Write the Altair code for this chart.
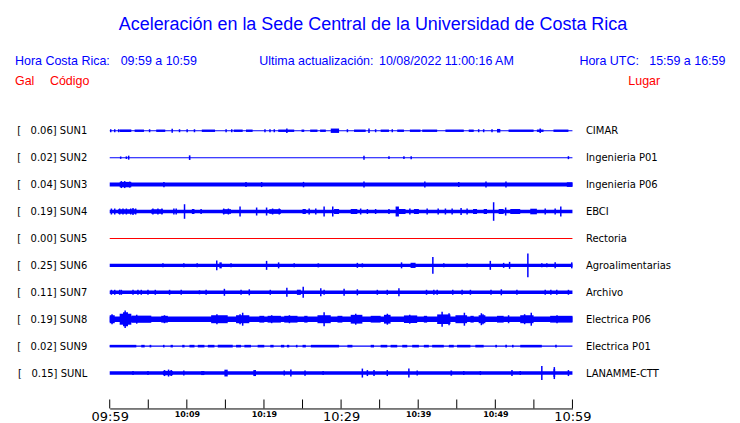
import json
import altair as alt
import pandas as pd

# ---------------- data ----------------
TITLE = "Aceleración en la Sede Central de la Universidad de Costa Rica"
HEADER_BLUE = ["Hora Costa Rica:", "09:59 a 10:59", "Ultima actualización:",
               "10/08/2022 11:00:16 AM", "Hora UTC:", "15:59 a 16:59"]
HEADER_RED = ["Gal", "Código", "Lugar"]

STATIONS = ["SUN1", "SUN2", "SUN3", "SUN4", "SUN5", "SUN6", "SUN7", "SUN8", "SUN9", "SUNL"]
PEAK_GAL = ["0.06", "0.02", "0.04", "0.19", "0.00", "0.25", "0.11", "0.19", "0.02", "0.15"]
PLACES = ["CIMAR", "Ingenieria P01", "Ingenieria P06", "EBCI", "Rectoria",
          "Agroalimentarias", "Archivo", "Electrica P06", "Electrica P01", "LANAMME-CTT"]
TRACE_COLORS = ["#0000ff", "#0000ff", "#0000ff", "#0000ff", "#ff0000",
                "#0000ff", "#0000ff", "#0000ff", "#0000ff", "#0000ff"]

# half amplitude of the continuous background noise band of each trace (display units)
BASE_HALF = [0.5, 0.5, 2.0, 1.8, 0.5, 1.7, 1.7, 2.8, 0.6, 1.7]

# events: (start minute, end minute, half amplitude); start == end -> single spike
SUN1_EV = [(1.29, 2.80, 1.3), (3.23, 4.44, 1.2), (6.03, 7.20, 1.2), (11.94, 13.66, 1.2),
           (16.08, 17.24, 1.2), (17.67, 18.53, 1.2), (21.85, 23.92, 1.2), (24.87, 25.22, 1.2),
           (25.99, 26.94, 1.2), (27.28, 28.02, 1.2), (28.66, 29.74, 2.2), (31.68, 33.19, 1.2),
           (35.13, 36.21, 1.2), (37.28, 38.15, 1.2), (38.92, 40.30, 1.2), (40.52, 42.46, 1.2),
           (43.53, 45.91, 1.2), (46.55, 47.20, 1.2), (50.22, 50.65, 1.8), (51.72, 54.96, 1.2),
           (55.39, 56.25, 1.2), (57.54, 59.48, 1.2),
           (0.13, 0.13, 1.5), (0.65, 0.65, 1.5), (1.16, 1.16, 1.5), (5.17, 5.17, 1.5),
           (8.10, 8.10, 2.0), (9.05, 9.05, 1.5), (10.04, 10.04, 1.5), (10.99, 10.99, 1.5),
           (15.09, 15.09, 1.5), (15.82, 15.82, 1.5), (20.13, 20.13, 1.5), (20.78, 20.78, 1.5),
           (21.34, 21.34, 1.5), (22.97, 22.97, 2.3), (30.82, 30.82, 1.5), (33.62, 33.62, 2.3),
           (34.48, 34.48, 1.5), (36.64, 36.64, 1.5), (47.84, 47.84, 1.5), (48.49, 48.49, 1.5),
           (49.57, 49.57, 1.5), (55.82, 55.82, 2.3)]
SUN2_EV = [(1.42, 1.42, 1.2), (2.16, 2.16, 1.3), (2.46, 2.46, 2.0), (10.26, 10.47, 2.3),
           (32.97, 32.97, 2.0), (36.21, 36.21, 1.3), (38.15, 38.15, 1.3), (39.09, 39.09, 1.5),
           (59.48, 59.48, 1.5)]
SUN3_EV = [(1.29, 2.80, 2.7), (1.51, 1.51, 3.5), (1.94, 1.94, 3.5), (2.59, 2.59, 3.0),
           (7.03, 7.03, 2.7), (17.67, 17.67, 2.5), (19.70, 19.70, 2.5), (25.13, 25.13, 2.7),
           (32.97, 32.97, 3.0), (40.86, 40.86, 3.0), (45.26, 45.26, 2.5), (48.79, 48.79, 3.0),
           (51.38, 51.38, 3.0), (59.27, 60.0, 2.3)]
SUN4_EV = [(1.08, 3.45, 2.2), (0.22, 0.22, 3.0), (0.65, 0.65, 3.0), (1.29, 1.29, 3.0),
           (1.72, 1.72, 3.0), (2.16, 2.16, 3.0), (2.72, 2.72, 3.0), (3.02, 3.02, 3.5),
           (3.36, 3.36, 3.0), (5.39, 6.90, 2.2), (5.60, 5.60, 3.0), (6.25, 6.25, 3.0),
           (6.77, 6.77, 3.0), (8.32, 8.32, 3.0), (8.62, 8.62, 3.0), (9.70, 9.70, 7.3),
           (10.65, 10.99, 2.5), (11.85, 11.85, 2.5), (14.66, 15.73, 2.3), (14.78, 14.78, 3.0),
           (15.39, 15.39, 3.0), (16.90, 16.90, 5.0), (19.05, 19.05, 4.0), (20.34, 20.34, 4.0),
           (20.69, 22.20, 2.3), (21.12, 21.12, 3.0), (21.98, 21.98, 3.0), (25.00, 25.43, 2.5),
           (25.86, 25.86, 3.0), (26.72, 26.72, 3.0), (27.80, 27.80, 5.0), (28.92, 28.92, 5.0),
           (29.09, 29.74, 2.5), (31.25, 32.11, 2.5), (32.54, 32.54, 3.0), (33.41, 33.41, 2.5),
           (34.48, 34.48, 2.5), (36.21, 36.21, 2.5), (37.07, 37.50, 5.0), (37.50, 38.36, 2.5),
           (38.92, 38.92, 3.0), (39.44, 40.09, 2.5), (41.16, 41.16, 3.0), (42.59, 42.59, 3.0),
           (43.53, 43.53, 3.0), (44.40, 44.40, 3.0), (45.56, 45.56, 3.5), (46.34, 46.34, 3.0),
           (47.11, 47.63, 2.5), (48.49, 48.92, 2.5), (49.78, 49.78, 9.3), (50.43, 51.08, 2.5),
           (51.34, 51.34, 4.0), (51.94, 53.23, 2.5), (54.53, 55.39, 2.8), (56.47, 56.47, 3.0),
           (57.76, 57.76, 3.0), (58.49, 58.49, 5.0)]
SUN5_EV = []
SUN6_EV = [(6.90, 6.90, 2.0), (9.61, 9.61, 2.0), (11.34, 11.34, 2.0), (13.88, 13.88, 5.0),
           (14.22, 14.53, 3.0), (15.73, 15.73, 2.0), (20.34, 20.34, 4.5), (21.90, 21.90, 3.0),
           (23.92, 23.92, 2.0), (26.94, 27.16, 2.0), (32.11, 32.11, 2.5), (32.76, 32.76, 2.0),
           (37.84, 37.84, 3.0), (39.01, 39.66, 2.6), (41.90, 41.90, 8.3), (43.32, 43.32, 2.0),
           (46.34, 46.34, 2.0), (49.35, 49.35, 4.5), (51.08, 51.08, 2.5), (51.85, 51.85, 3.5),
           (54.22, 54.22, 11.8), (56.03, 56.03, 2.0), (56.68, 56.68, 2.0), (57.76, 57.76, 3.0),
           (59.91, 59.91, 3.0)]
SUN7_EV = [(0.22, 0.22, 2.5), (0.65, 0.65, 2.5), (1.29, 1.29, 2.5), (1.51, 1.51, 2.5),
           (3.02, 3.02, 2.5), (3.66, 3.66, 2.5), (4.09, 4.09, 2.5), (4.96, 4.96, 2.5),
           (5.91, 5.91, 2.5), (7.76, 7.76, 2.5), (9.27, 9.27, 2.5), (11.64, 11.64, 2.0),
           (12.50, 12.50, 2.5), (14.87, 14.87, 3.5), (17.03, 17.03, 2.5), (18.10, 18.10, 3.0),
           (20.82, 20.82, 2.5), (22.97, 22.97, 4.5), (24.27, 24.78, 2.6), (25.09, 25.09, 5.5),
           (27.37, 27.37, 4.0), (27.80, 27.80, 2.5), (30.39, 30.39, 3.5), (32.11, 32.11, 3.0),
           (34.70, 34.70, 2.5), (35.99, 35.99, 2.5), (37.50, 37.50, 4.0), (41.08, 41.08, 2.5),
           (42.03, 42.03, 2.5), (42.46, 42.46, 2.5), (44.48, 44.48, 2.5), (45.69, 45.69, 2.5),
           (46.77, 46.77, 2.5), (49.44, 49.44, 2.5), (50.78, 50.78, 3.0), (52.80, 52.80, 2.5),
           (56.47, 56.47, 2.5), (57.20, 57.20, 2.5), (57.97, 57.97, 2.5), (59.48, 59.48, 2.5)]
SUN8_EV = [(0.0, 0.65, 4.0), (1.29, 2.80, 5.5), (1.72, 2.37, 7.0), (2.80, 5.39, 3.6),
           (6.68, 7.54, 3.4), (13.15, 15.30, 4.0), (16.38, 18.10, 4.0), (17.24, 17.24, 6.5),
           (19.40, 20.04, 3.4), (20.47, 22.20, 3.4), (22.63, 24.35, 3.4), (25.22, 25.65, 3.4),
           (26.94, 28.66, 4.0), (27.80, 27.80, 7.0), (29.53, 30.17, 3.4), (31.25, 32.76, 4.4),
           (33.84, 35.13, 3.4), (35.56, 36.42, 4.4), (38.15, 39.87, 3.8), (40.73, 41.16, 3.4),
           (42.46, 44.18, 4.8), (43.10, 43.10, 7.5), (44.83, 46.34, 4.0), (45.99, 45.99, 6.5),
           (46.77, 47.20, 3.4), (47.84, 48.71, 4.0), (48.19, 48.19, 6.0), (50.22, 51.08, 3.4),
           (51.72, 51.72, 4.0), (53.23, 54.96, 4.0), (54.66, 54.66, 6.5), (57.11, 60.0, 3.4),
           (0.30, 0.30, 5.0), (2.0, 2.0, 8.8), (3.5, 3.5, 4.5), (7.1, 7.1, 4.0), (13.9, 13.9, 5.0),
           (16.9, 16.9, 5.0), (21.0, 21.0, 4.0), (23.3, 23.3, 4.0), (31.9, 31.9, 5.5),
           (36.0, 36.0, 5.5), (38.9, 38.9, 4.5), (44.0, 44.0, 6.0), (48.4, 48.4, 5.0),
           (53.8, 53.8, 5.0), (58.0, 58.0, 4.0)]
SUN9_EV = [(0.0, 3.45, 1.3), (4.09, 4.53, 1.3), (5.17, 5.39, 1.3), (6.90, 7.11, 1.3),
           (7.89, 8.19, 1.3), (9.40, 9.70, 1.3), (10.34, 10.99, 1.3), (11.42, 12.28, 1.3),
           (12.72, 13.58, 1.3), (14.01, 15.95, 1.3), (16.38, 17.03, 1.3), (17.46, 18.32, 1.3),
           (19.18, 20.04, 1.3), (20.82, 21.25, 1.3), (22.20, 22.63, 1.3), (22.97, 23.28, 1.3),
           (24.14, 24.35, 1.3), (25.00, 25.43, 1.3), (26.08, 29.74, 1.3), (30.82, 31.47, 1.3),
           (33.84, 34.27, 1.3), (35.13, 35.99, 1.3), (36.42, 37.28, 1.3), (37.93, 38.58, 1.3),
           (39.22, 40.09, 1.3), (40.73, 41.38, 1.3), (41.81, 43.32, 1.3), (43.97, 44.61, 1.3),
           (45.04, 46.77, 1.3), (47.41, 48.49, 1.3), (49.99, 50.22, 1.3), (51.29, 51.51, 1.3),
           (52.16, 52.37, 1.3), (53.23, 56.03, 1.3), (57.76, 57.97, 1.3)]
SUNL_EV = [(3.02, 3.02, 2.0), (4.96, 4.96, 2.0), (6.90, 8.19, 2.2), (7.11, 7.11, 3.0),
           (7.63, 7.63, 3.5), (7.97, 7.97, 3.0), (9.61, 9.61, 2.5), (11.85, 12.28, 2.0),
           (14.87, 15.30, 3.4), (18.62, 18.97, 3.0), (22.63, 22.63, 2.5), (23.49, 23.49, 3.5),
           (25.22, 25.43, 2.6), (27.67, 27.67, 2.0), (32.76, 32.76, 4.5), (33.41, 33.41, 3.0),
           (34.27, 34.27, 3.0), (35.99, 35.99, 3.0), (38.79, 38.79, 4.5), (39.87, 39.87, 2.5),
           (44.18, 44.40, 2.6), (45.91, 45.91, 2.0), (48.06, 48.06, 2.0), (52.16, 52.16, 3.0),
           (53.23, 53.23, 2.0), (56.03, 56.03, 7.0), (57.54, 57.76, 4.0), (57.65, 57.65, 6.0),
           (59.48, 59.48, 3.0)]
EVENTS = [SUN1_EV, SUN2_EV, SUN3_EV, SUN4_EV, SUN5_EV, SUN6_EV, SUN7_EV, SUN8_EV, SUN9_EV, SUNL_EV]

WINDOW_MIN = 60
MAJOR_TICKS = [0, 10, 20, 30, 40, 50, 60]
TICK_LABELS = ["09:59", "10:09", "10:19", "10:29", "10:39", "10:49", "10:59"]
MINOR_TICKS = [0, 5, 10, 15, 20, 25, 30, 35, 40, 45, 50, 55, 60]

# ---------------- tables ----------------
ROW = 27  # trace spacing in amplitude display units
band_rows, burst_rows, spike_rows = [], [], []
for i, st in enumerate(STATIONS):
    c = i * ROW
    band_rows.append(dict(station=st, x0=0, x1=WINDOW_MIN, y0=c - BASE_HALF[i], y1=c + BASE_HALF[i]))
    for (t0, t1, a) in EVENTS[i]:
        rec = dict(station=st, t0=t0, t1=t1, y0=c - a, y1=c + a)
        (spike_rows if t0 == t1 else burst_rows).append(rec)
bands = pd.DataFrame(band_rows)
bursts = pd.DataFrame(burst_rows)
spikes = pd.DataFrame(spike_rows)
ticks = pd.DataFrame({"m": MINOR_TICKS})

NB = "\u00a0"
left_labels = [f"[{NB*3}{g}]{NB}{s}" for g, s in zip(PEAK_GAL, STATIONS)]
row_values = [i * ROW for i in range(len(STATIONS))]

W, H = 464, 306
xs = alt.Scale(domain=[0, WINDOW_MIN], nice=False, zero=False)
ys = alt.Scale(domain=[-27.5, 278.5], reverse=True, nice=False, zero=False)
col = alt.Color("station:N", scale=alt.Scale(domain=STATIONS, range=TRACE_COLORS), legend=None)

major_test = "datum.value % 30 === 0"
x_axis = alt.Axis(values=MAJOR_TICKS, title=None, ticks=False, grid=False,
                  labelExpr=f"{json.dumps(TICK_LABELS)}[round(datum.value/10)]",
                  labelFlush=False, labelPadding=2, labelColor="black",
                  labelFont="DejaVu Sans",
                  labelFontSize={"condition": {"test": major_test, "value": 13}, "value": 8},
                  labelFontWeight={"condition": {"test": major_test, "value": "normal"}, "value": "bold"},
                  domainColor="black", domainWidth=1)
left_axis = alt.Axis(values=row_values, title=None, ticks=False, grid=False, domain=False,
                     labelExpr=f"{json.dumps(left_labels)}[round(datum.value/{ROW})]",
                     labelPadding=23, labelFont="DejaVu Sans", labelFontSize=10, labelColor="black")
right_axis = alt.Axis(values=row_values, title=None, ticks=False, grid=False, domain=False, orient="right",
                      labelExpr=f"{json.dumps(PLACES)}[round(datum.value/{ROW})]",
                      labelPadding=13, labelFont="DejaVu Sans", labelFontSize=10, labelColor="black")

band_layer = alt.Chart(bands).mark_rect().encode(
    x=alt.X("x0:Q", scale=xs, axis=x_axis), x2="x1",
    y=alt.Y("y0:Q", scale=ys, axis=left_axis), y2="y1", color=col)
burst_layer = alt.Chart(bursts).mark_rect().encode(
    x=alt.X("t0:Q", scale=xs, axis=None), x2="t1",
    y=alt.Y("y0:Q", scale=ys, axis=right_axis), y2="y1", color=col)
spike_layer = alt.Chart(spikes).mark_rule(strokeWidth=1.5).encode(
    x=alt.X("t0:Q", scale=xs, axis=None),
    y=alt.Y("y0:Q", scale=ys, axis=None), y2="y1", color=col)
tick_layer = alt.Chart(ticks).mark_rule(color="black", strokeWidth=1).encode(
    x=alt.X("m:Q", scale=xs, axis=None), y=alt.value(H - 9), y2=alt.value(H))


def label(text, x, y, color, size, font="Liberation Sans", align="left"):
    return alt.Chart(pd.DataFrame({"t": [text]})).mark_text(
        align=align, baseline="alphabetic", font=font, fontSize=size, color=color
    ).encode(x=alt.value(x), y=alt.value(y), text="t:N")


texts = [
    label(TITLE, 264, -74, "#0000ff", 18, align="center"),
    label(HEADER_BLUE[0], -95, -38, "#0000ff", 12.5),
    label(HEADER_BLUE[1], 11, -38, "#0000ff", 12.5),
    label(HEADER_BLUE[2], 150, -38, "#0000ff", 12.5),
    label(HEADER_BLUE[3], 270, -38, "#0000ff", 12.5),
    label(HEADER_BLUE[4], 471, -38, "#0000ff", 12.5),
    label(HEADER_BLUE[5], 541, -38, "#0000ff", 12.5),
    label(HEADER_RED[0], -95, -18, "#ff0000", 12.5),
    label(HEADER_RED[1], -60, -18, "#ff0000", 12.5),
    label(HEADER_RED[2], 520, -18, "#ff0000", 12.5),
]

chart = alt.layer(band_layer, burst_layer, spike_layer, tick_layer, *texts).resolve_axis(
    x="independent", y="independent"
).properties(
    width=W, height=H, autosize="none",
    padding={"left": 102, "top": 95, "right": 160, "bottom": 14},
    background="white",
).configure_view(stroke=None)

chart.save("out.html", embed_options={"renderer": "svg", "actions": False})
